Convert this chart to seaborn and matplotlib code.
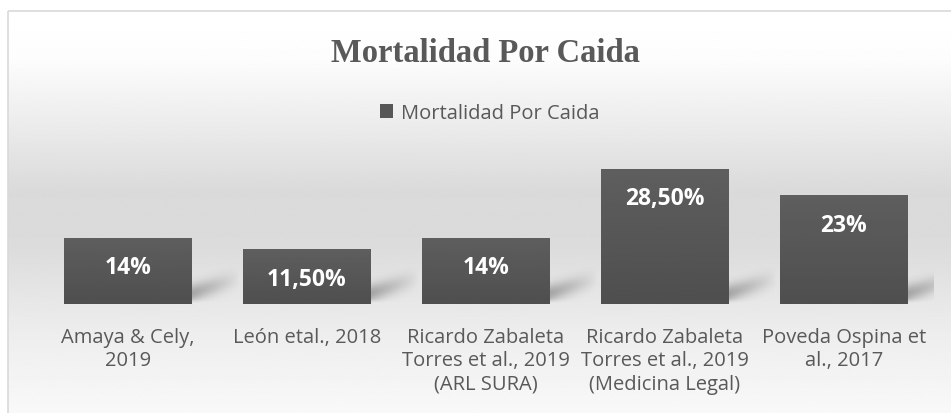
import matplotlib
matplotlib.use('Agg')
import matplotlib.pyplot as plt
import numpy as np
import seaborn as sns
from matplotlib.patches import Rectangle

# data
categories = ['Amaya & Cely,\n2019',
              'León etal., 2018',
              'Ricardo Zabaleta\nTorres et al., 2019\n(ARL SURA)',
              'Ricardo Zabaleta\nTorres et al., 2019\n(Medicina Legal)',
              'Poveda Ospina et\nal., 2017']
values = [14, 11.5, 14, 28.5, 23]
value_labels = ['14%', '11,50%', '14%', '28,50%', '23%']
series_name = 'Mortalidad Por Caida'
title = 'Mortalidad Por Caida'

W, H = 951, 414
BAR_COLOR = '#575757'
TEXT_COLOR = '#595959'

sns.set_style('white')
plt.rcParams['font.family'] = ['Open Sans', 'DejaVu Sans']

fig = plt.figure(figsize=(W / 100, H / 100), dpi=100)

# background with the vertical gradient of the chart area
bg = fig.add_axes([0, 0, 1, 1])
bg.set_xlim(0, W)
bg.set_ylim(H, 0)
bg.axis('off')
ys = np.linspace(0, 1, 300)
stops_y = [0.0, 0.12, 0.45, 0.58, 0.8, 1.0]
stops_v = [1.0, 0.99, 0.855, 0.86, 0.93, 0.975]
shade = np.interp(ys, stops_y, stops_v)
grad = np.repeat(shade[:, None], 2, axis=1)
bg.imshow(grad, cmap='gray', vmin=0, vmax=1, aspect='auto',
          extent=(8, W, H, 12), interpolation='bilinear')
bg.add_patch(Rectangle((8, 12), W + 10, H, fill=False, ec='#d9d9d9', lw=1.2))

# main axes
ax = fig.add_axes([38.5 / W, 109 / H, 895 / W, 142.5 / H])
ax.patch.set_alpha(0)
sns.barplot(x=categories, y=values, color=BAR_COLOR, saturation=1, linewidth=0,
            width=0.715, label=series_name, ax=ax, zorder=3)
ax.set_ylim(0, 30)

# soft gradient on the bars, plus a blurred skewed shadow on the right
bar_grad = np.linspace(0.37, 0.31, 50)[:, None]
su = np.linspace(0, 1, 60)[None, :]
sv = np.linspace(0, 1, 40)[:, None]
centre = 0.25 + 0.45 * su
fade = np.exp(-((sv - centre) / 0.25) ** 2) * np.clip(1 - su, 0, 1) ** 0.9
fade *= np.clip(sv / 0.12, 0, 1)
shadow = np.zeros((40, 60, 4))
shadow[..., 3] = 0.3 * fade
for p in ax.patches:
    x0, w, h = p.get_x(), p.get_width(), p.get_height()
    im = ax.imshow(np.repeat(bar_grad, 2, axis=1), cmap='gray', vmin=0, vmax=1,
                   aspect='auto', extent=(x0, x0 + w, 0, h), zorder=4,
                   interpolation='bilinear')
    im.set_clip_path(p)
    ax.imshow(shadow, aspect='auto', origin='lower',
              extent=(x0 + w - 0.02, x0 + w + 0.27, 0.0, 7.6),
              zorder=2, interpolation='bilinear')

ax.set_xlim(-0.5, len(values) - 0.5)

for p, lab in zip(ax.patches, value_labels):
    ax.annotate(lab, (p.get_x() + p.get_width() / 2, p.get_height()),
                xytext=(0, -21.5), textcoords='offset points',
                ha='center', va='center', color='white',
                fontsize=16.5, fontweight='bold', zorder=6)

sns.despine(ax=ax, left=True, bottom=True)
ax.set_yticks([])
ax.tick_params(axis='x', length=0, pad=16.5, labelsize=14.5, labelcolor=TEXT_COLOR)
for t in ax.get_xticklabels():
    t.set_linespacing(1.22)
    t.set_multialignment('center')

fig.text(0.51, 1 - 53 / H, title, ha='center', va='center',
         family=['Liberation Serif'], fontweight='bold', fontsize=23.5, color=TEXT_COLOR)

ax.legend(loc='center', bbox_to_anchor=(0.515, 1 - 114 / H), bbox_transform=fig.transFigure,
          frameon=False, fontsize=14.5, labelcolor=TEXT_COLOR,
          handlelength=0.65, handleheight=0.65, handletextpad=0.4)

fig.savefig('out.png', dpi=100)
